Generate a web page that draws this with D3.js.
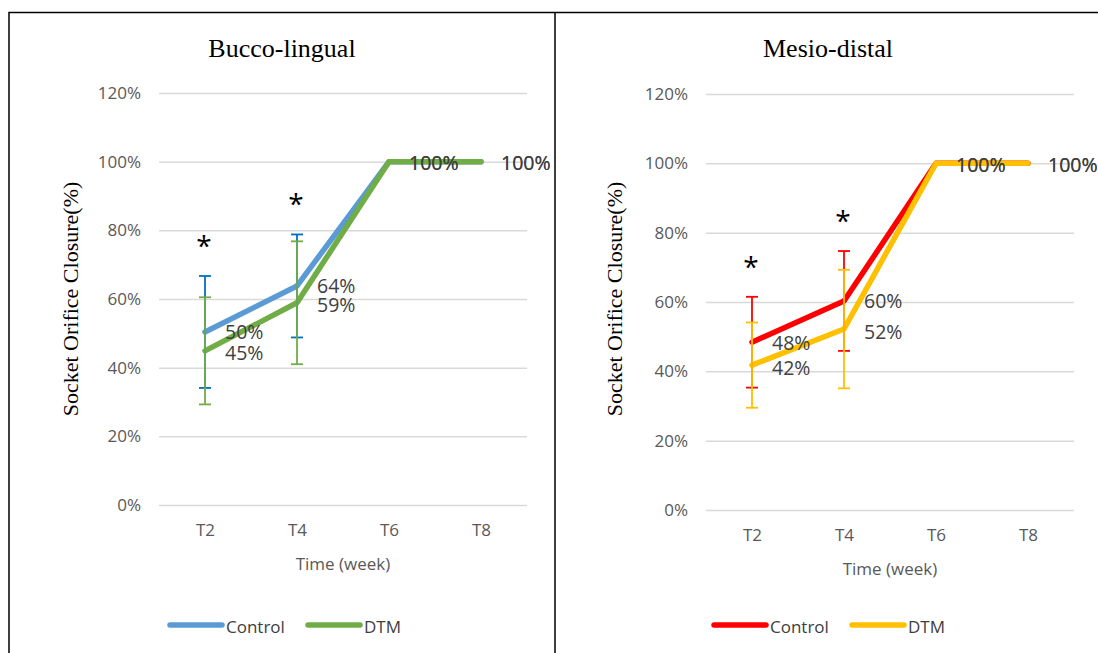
<!DOCTYPE html>
<html>
<head>
<meta charset="utf-8">
<script src="https://cdn.jsdelivr.net/npm/d3@7"></script>
<style>
  body { margin: 0; background: #fff; }
  svg { display: block; }
</style>
</head>
<body>
<svg id="chart" width="1098" height="653"></svg>
<script>
// categories + ticks
var weeks = ["T2", "T4", "T6", "T8"]
var yTicks = [0, 20, 40, 60, 80, 100, 120]
var seriesNames = ["Control", "DTM"]

// Bucco-lingual (values in %)
var blControl = [50.4, 63.8, 100, 100]
var blControlErr = [16.3, 15.0, null, null]
var blDTM = [44.9, 58.9, 100, 100]
var blDTMErr = [15.6, 17.9, null, null]
var blStars = ["T2", "T4"]

// Mesio-distal
var mdControl = [48.4, 60.3, 100, 100]
var mdControlErr = [13.1, 14.4, null, null]
var mdDTM = [41.8, 52.2, 100, 100]
var mdDTMErr = [12.3, 17.1, null, null]
var mdStars = ["T2", "T4"]

var svg = d3.select("#chart")

// frame lines
svg.append("path")
  .attr("d", "M9,653V12.5H1098M555,12.5V653")
  .attr("fill", "none").attr("stroke", "#000").attr("stroke-width", 1.5)

var panels = [
  {title: "Bucco-lingual", x0: 159, x1: 527, y0: 505, y1: 93, titleX: 282, yTitleX: 70,
   series: [
     {vals: blControl, err: blControlErr, color: "#5B9BD5", errColor: "#0070C0"},
     {vals: blDTM, err: blDTMErr, color: "#70AD47", errColor: "#70AD47"}
   ], stars: blStars, legendX: 170},
  {title: "Mesio-distal", x0: 706, x1: 1074, y0: 510, y1: 94, titleX: 828, yTitleX: 614,
   series: [
     {vals: mdControl, err: mdControlErr, color: "#FF0000", errColor: "#FF0000"},
     {vals: mdDTM, err: mdDTMErr, color: "#FFC000", errColor: "#FFC000"}
   ], stars: mdStars, legendX: 714}
]

panels.forEach(function(p) {
  var g = svg.append("g")
  var x = d3.scalePoint().domain(weeks).range([p.x0, p.x1]).padding(0.5)
  var y = d3.scaleLinear().domain([0, 120]).range([p.y0, p.y1])

  // title
  g.append("text").attr("x", p.titleX).attr("y", 48)
    .attr("text-anchor", "middle").attr("dominant-baseline", "central")
    .style("font-family", "Liberation Serif, serif").style("font-size", "26px").attr("fill", "#000")
    .text(p.title)

  // grid
  var yAxis = d3.axisLeft(y).tickValues(yTicks).tickSize(-(p.x1 - p.x0)).tickPadding(18)
    .tickFormat(function(d){ return d + "%" })
  var ya = g.append("g").attr("transform", "translate(" + p.x0 + ",0)").call(yAxis)
  ya.select(".domain").remove()
  ya.selectAll("line").attr("stroke", "#D9D9D9").attr("stroke-width", 1.5)
  ya.selectAll("text").attr("fill", "#595959")
    .style("font-family", "Open Sans, sans-serif").style("font-size", "17px")

  var xAxis = d3.axisBottom(x).tickSize(0).tickPadding(19)
  var xa = g.append("g").attr("transform", "translate(0," + p.y0 + ")").call(xAxis)
  xa.select(".domain").remove()
  xa.selectAll("text").attr("fill", "#595959")
    .style("font-family", "Open Sans, sans-serif").style("font-size", "17px")

  g.append("text").attr("x", (p.x0 + p.x1) / 2).attr("y", p.y0 + 58)
    .attr("text-anchor", "middle").attr("dominant-baseline", "central")
    .style("font-family", "Open Sans, sans-serif").style("font-size", "17px").attr("fill", "#595959")
    .text("Time (week)")

  g.append("text")
    .attr("transform", "translate(" + p.yTitleX + ",299) rotate(-90)")
    .attr("text-anchor", "middle").attr("dominant-baseline", "central")
    .style("font-family", "Liberation Serif, serif").style("font-size", "22px").attr("fill", "#000")
    .text("Socket Orifice Closure(%)")

  var line = d3.line().x(function(d, i){ return x(weeks[i]) }).y(function(d){ return y(d) })

  p.series.forEach(function(s) {
    g.append("path").datum(s.vals).attr("d", line)
      .attr("fill", "none").attr("stroke", s.color).attr("stroke-width", 5.5)
      .attr("stroke-linejoin", "round").attr("stroke-linecap", "round")
  })

  p.series.forEach(function(s) {
    var eb = g.append("g").attr("stroke", s.errColor).attr("stroke-width", 1.8)
    s.vals.forEach(function(v, i) {
      var e = s.err[i]
      if (e == null) return
      var cx = x(weeks[i])
      eb.append("line").attr("x1", cx).attr("x2", cx).attr("y1", y(v + e)).attr("y2", y(v - e))
      eb.append("line").attr("x1", cx - 6).attr("x2", cx + 6).attr("y1", y(v + e)).attr("y2", y(v + e))
      eb.append("line").attr("x1", cx - 6).attr("x2", cx + 6).attr("y1", y(v - e)).attr("y2", y(v - e))
    })
  })

  // data labels (control nudged up, DTM down, as in the original)
  p.series.forEach(function(s, k) {
    g.selectAll(null).data(s.vals).enter().append("text")
      .attr("x", function(d, i){ return x(weeks[i]) + 20 })
      .attr("y", function(d){ return y(d) + (d === 100 ? 1 : (k === 0 ? 0 : 2)) })
      .attr("dominant-baseline", "central")
      .style("font-family", "Open Sans, sans-serif").style("font-size", "19.5px").attr("fill", "#404040")
      .text(function(d){ return Math.round(d) + "%" })
  })

  // significance stars
  p.stars.forEach(function(w) {
    var i = weeks.indexOf(w)
    var top = d3.max(p.series, function(s){ return s.err[i] == null ? s.vals[i] : s.vals[i] + s.err[i] })
    g.append("text").attr("x", x(w) - 1).attr("y", y(top) - 20)
      .attr("text-anchor", "middle")
      .style("font-family", "Open Sans, sans-serif").style("font-size", "28px").attr("fill", "#000")
      .text("*")
  })

  // legend
  p.series.forEach(function(s, k) {
    var lx = p.legendX + k * 138
    g.append("line").attr("x1", lx).attr("x2", lx + 52).attr("y1", 625).attr("y2", 625)
      .attr("stroke", s.color).attr("stroke-width", 5.5).attr("stroke-linecap", "round")
    g.append("text").attr("x", lx + 56).attr("y", 626).attr("dominant-baseline", "central")
      .style("font-family", "Open Sans, sans-serif").style("font-size", "17px").attr("fill", "#404040")
      .text(seriesNames[k])
  })
})
</script>
</body>
</html>
